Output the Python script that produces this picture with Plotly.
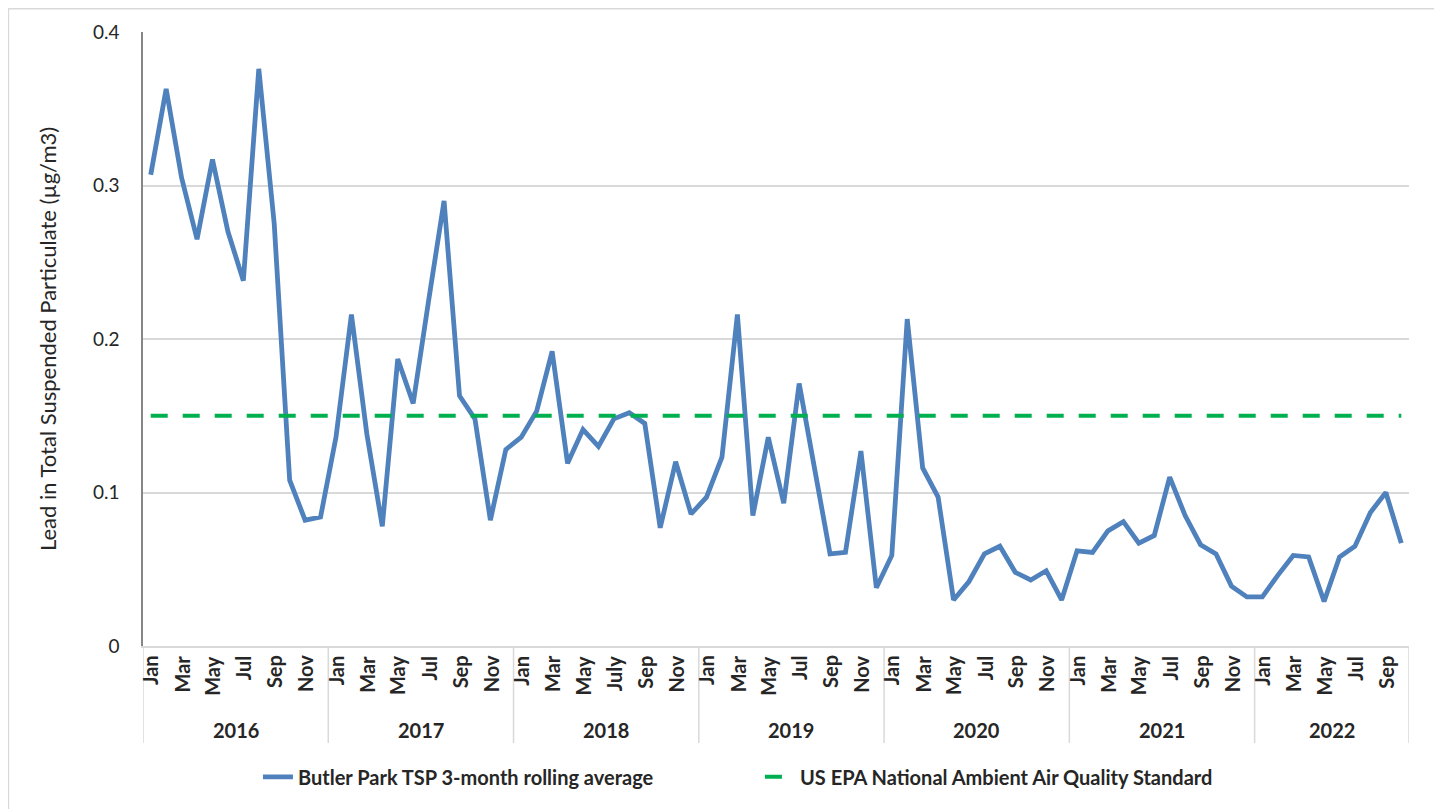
import plotly.graph_objects as go

# ---- data ----
years = ["2016", "2017", "2018", "2019", "2020", "2021", "2022"]
months_per_year = [12, 12, 12, 12, 12, 12, 10]
month_names = ["Jan", "Feb", "Mar", "Apr", "May", "Jun",
               "Jul", "Aug", "Sep", "Oct", "Nov", "Dec"]
month_names_2018 = ["Jan", "Feb", "Mar", "Apr", "May", "Jun",
                    "July", "Aug", "Sep", "Oct", "Nov", "Dec"]

tsp_2016 = [0.307, 0.363, 0.305, 0.265, 0.317, 0.270, 0.238, 0.376, 0.275, 0.108, 0.082, 0.084]
tsp_2017 = [0.136, 0.216, 0.138, 0.078, 0.187, 0.158, 0.225, 0.290, 0.163, 0.148, 0.082, 0.128]
tsp_2018 = [0.136, 0.153, 0.192, 0.119, 0.141, 0.130, 0.148, 0.152, 0.145, 0.077, 0.120, 0.086]
tsp_2019 = [0.097, 0.123, 0.216, 0.085, 0.136, 0.093, 0.171, 0.117, 0.060, 0.061, 0.127, 0.038]
tsp_2020 = [0.059, 0.213, 0.116, 0.097, 0.030, 0.042, 0.060, 0.065, 0.048, 0.043, 0.049, 0.030]
tsp_2021 = [0.062, 0.061, 0.075, 0.081, 0.067, 0.072, 0.110, 0.085, 0.066, 0.060, 0.039, 0.032]
tsp_2022 = [0.032, 0.046, 0.059, 0.058, 0.029, 0.058, 0.065, 0.087, 0.100, 0.067]

epa_standard = 0.15

y_ticks = [0, 0.1, 0.2, 0.3, 0.4]
y_tick_labels = ["0", "0.1", "0.2", "0.3", "0.4"]

series_name = "Butler Park TSP 3-month rolling average"
std_name = "US EPA National Ambient Air Quality Standard"
y_title = "Lead in Total Suspended Particulate (µg/m3)"

# ---- build ----
tsp = tsp_2016 + tsp_2017 + tsp_2018 + tsp_2019 + tsp_2020 + tsp_2021 + tsp_2022
labels = []
month_pos = []
year_of = []
for yr, n in zip(years, months_per_year):
    names = month_names_2018 if yr == "2018" else month_names
    labels += names[:n]
    month_pos += list(range(n))
    year_of += [yr] * n
xs = list(range(len(tsp)))

FONT = "Lato, 'Open Sans', sans-serif"
TXT = "#262626"
GRID = "#d9d9d9"

fig = go.Figure()
fig.add_trace(go.Scatter(
    x=xs, y=tsp, mode="lines", name=f"<b>{series_name}</b>",
    line=dict(color="#4f81bd", width=4.8),
))
fig.add_trace(go.Scatter(
    x=xs, y=[epa_standard] * len(xs), mode="lines", name=f"<b>{std_name}</b>",
    line=dict(color="#00b050", width=4, dash="17px,15px"),
))

annotations = []
shapes = []
# month labels (every other month)
for i in range(len(xs)):
    if month_pos[i] % 2 == 0:
        annotations.append(dict(
            x=xs[i], y=-0.012, xref="x", yref="paper", text=f"<b>{labels[i]}</b>",
            textangle=-90, showarrow=False, xanchor="center", yanchor="top",
            font=dict(family=FONT, size=20, color=TXT),
        ))
# year labels and separators
start = 0
for yr, n in zip(years, months_per_year):
    annotations.append(dict(
        x=start + (n - 1) / 2, y=-0.137, xref="x", yref="paper", text=f"<b>{yr}</b>",
        showarrow=False, xanchor="center", yanchor="middle",
        font=dict(family=FONT, size=20, color=TXT),
    ))
    shapes.append(dict(type="line", xref="x", yref="paper", x0=start - 0.5, x1=start - 0.5,
                       y0=0, y1=-0.158, line=dict(color=GRID, width=1.5)))
    start += n
shapes.append(dict(type="line", xref="x", yref="paper", x0=start - 0.5, x1=start - 0.5,
                   y0=0, y1=-0.158, line=dict(color=GRID, width=1.5)))

# y title
annotations.append(dict(
    x=-0.0758, y=0.5, xref="paper", yref="paper", text=y_title, textangle=-90,
    showarrow=False, xanchor="center", yanchor="middle",
    font=dict(family=FONT, size=22, color=TXT),
))

# outer chart border
shapes.append(dict(type="rect", xref="paper", yref="paper", x0=-0.1063, x1=1.0213,
                   y0=-0.35, y1=1.038, line=dict(color=GRID, width=1.5), layer="below"))

fig.update_layout(
    width=1434, height=801,
    margin=dict(l=135, r=33, t=24, b=163),
    paper_bgcolor="white", plot_bgcolor="white",
    font=dict(family=FONT, size=18, color=TXT),
    showlegend=True,
    legend=dict(orientation="h", x=0.0908, xanchor="left", y=-0.213, yanchor="middle",
                font=dict(family=FONT, size=20, color=TXT),
                entrywidth=457, entrywidthmode="pixels", traceorder="normal"),
    xaxis=dict(range=[-0.5, len(xs) - 0.5], showticklabels=False, showgrid=False,
               zeroline=False, showline=True, linecolor=GRID, linewidth=1.5, ticks=""),
    yaxis=dict(range=[0, 0.4], tickvals=y_ticks, ticktext=y_tick_labels, showgrid=True,
               gridcolor=GRID, gridwidth=1.5, zeroline=False, showline=True,
               linecolor="#868686", linewidth=1.5, ticks="", ticklabelstandoff=18,
               tickfont=dict(family=FONT, size=19, color=TXT)),
    annotations=annotations,
    shapes=shapes,
)

fig.write_html("out.html")
